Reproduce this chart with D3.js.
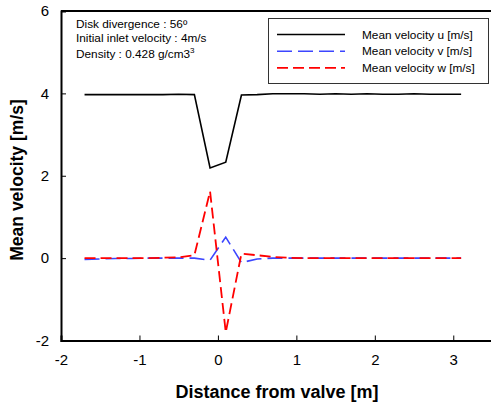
<!DOCTYPE html>
<html>
<head>
<meta charset="utf-8">
<script src="https://cdn.jsdelivr.net/npm/d3@7"></script>
<style>
body { margin: 0; background: #fff; }
svg { font-family: "Liberation Sans", Arial, sans-serif; }
</style>
</head>
<body>
<svg width="491" height="406"></svg>
<script>
// distance from valve [m]
var distance = [-1.7, -1.5, -1.3, -1.1, -0.9, -0.7, -0.5, -0.3, -0.1, 0.1, 0.3, 0.5, 0.7,
	0.9, 1.1, 1.3, 1.5, 1.7, 1.9, 2.1, 2.3, 2.5, 2.7, 2.9, 3.1];
var velU = [3.97, 3.97, 3.97, 3.97, 3.97, 3.97, 3.98, 3.97, 2.19, 2.33, 3.96, 3.97, 3.99,
	3.99, 3.99, 3.98, 3.99, 3.98, 3.99, 3.98, 3.98, 3.99, 3.98, 3.98, 3.98];
var velV = [-0.03, -0.02, -0.01, -0.01, 0, 0, 0, 0, -0.05, 0.51, -0.11, -0.02, 0, 0, 0,
	0, 0, 0, 0, 0, 0, 0, 0, 0, 0];
var velW = [0, 0, 0, 0, 0, 0.01, 0.02, 0.07, 1.62, -1.8, 0.11, 0.07, 0.03, 0.01, 0,
	0, 0, 0, 0, 0, 0, 0, 0, 0, 0];
var xTicks = [-2, -1, 0, 1, 2, 3];
var yTicks = [-2, 0, 2, 4, 6];
var seriesNames = ["Mean velocity u [m/s]", "Mean velocity v [m/s]", "Mean velocity w [m/s]"];

var svg = d3.select("svg"),
	mLeft = 61, mRight = 492.5, mTop = 11, mBottom = 340.5;

var x = d3.scaleLinear().domain([-2, 3.5]).range([mLeft, mRight]);
var y = d3.scaleLinear().domain([-2, 6]).range([mBottom, mTop]);

var series = [
	{ name: seriesNames[0], vals: velU, color: "#000", dash: null, width: 1.6 },
	{ name: seriesNames[1], vals: velV, color: "#3c46ff", dash: "15,6", width: 1.6 },
	{ name: seriesNames[2], vals: velW, color: "#ff0000", dash: "11,5", width: 1.8 }
];

var line = d3.line()
	.x(function (d) { return x(d[0]); })
	.y(function (d) { return y(d[1]); });

series.forEach(function (s) {
	svg.append("path")
		.datum(distance.map(function (t, i) { return [t, s.vals[i]]; }))
		.attr("fill", "none")
		.attr("stroke", s.color)
		.attr("stroke-width", s.width)
		.attr("stroke-dasharray", s.dash)
		.attr("d", line);
});

// axes
var fmt = function (d) { return String(d); };
var xAxis = svg.append("g")
	.attr("transform", "translate(0," + mBottom + ")")
	.call(d3.axisBottom(x).tickValues(xTicks).tickSize(-5).tickPadding(14).tickFormat(fmt));
var yAxis = svg.append("g")
	.attr("transform", "translate(" + mLeft + ",0)")
	.call(d3.axisLeft(y).tickValues(yTicks).tickSize(-5).tickPadding(12).tickFormat(fmt));
[xAxis, yAxis].forEach(function (a) {
	a.select(".domain").attr("stroke", "#000").attr("stroke-width", 2);
	a.selectAll(".tick line").attr("stroke", "#000").attr("stroke-width", 1);
	a.selectAll(".tick text").attr("font-size", 15).attr("fill", "#000")
		.style("font-family", "Liberation Sans, Arial, sans-serif");
});
svg.append("line")
	.attr("x1", mLeft).attr("x2", 491).attr("y1", mTop).attr("y2", mTop)
	.attr("stroke", "#000").attr("stroke-width", 2);

// axis titles
svg.append("text")
	.attr("x", 277).attr("y", 398)
	.attr("text-anchor", "middle")
	.attr("font-size", 18).attr("font-weight", "bold")
	.text("Distance from valve [m]");
svg.append("text")
	.attr("transform", "translate(23,180) rotate(-90)")
	.attr("text-anchor", "middle")
	.attr("font-size", 17.5).attr("font-weight", "bold")
	.text("Mean velocity [m/s]");

// annotation
var note = svg.append("g").attr("font-size", 11.8);
note.append("text").attr("x", 76).attr("y", 28).text("Disk divergence : 56º");
note.append("text").attr("x", 76).attr("y", 42).text("Initial inlet velocity : 4m/s");
var dens = note.append("text").attr("x", 76).attr("y", 58).text("Density : 0.428 g/cm3");
dens.append("tspan").attr("dy", -5).attr("font-size", 8).text("3");

// legend
var lg = svg.append("g");
lg.append("rect")
	.attr("x", 268.5).attr("y", 18.5).attr("width", 220).attr("height", 65)
	.attr("fill", "#fff").attr("stroke", "#333").attr("stroke-width", 1);
series.forEach(function (s, i) {
	var ly = 34.5 + i * 16.7;
	lg.append("line")
		.attr("x1", 277).attr("x2", 345).attr("y1", ly).attr("y2", ly)
		.attr("stroke", s.color).attr("stroke-width", s.width)
		.attr("stroke-dasharray", s.dash);
	lg.append("text")
		.attr("x", 362).attr("y", ly + 4)
		.attr("font-size", 11.8)
		.text(s.name);
});
</script>
</body>
</html>
